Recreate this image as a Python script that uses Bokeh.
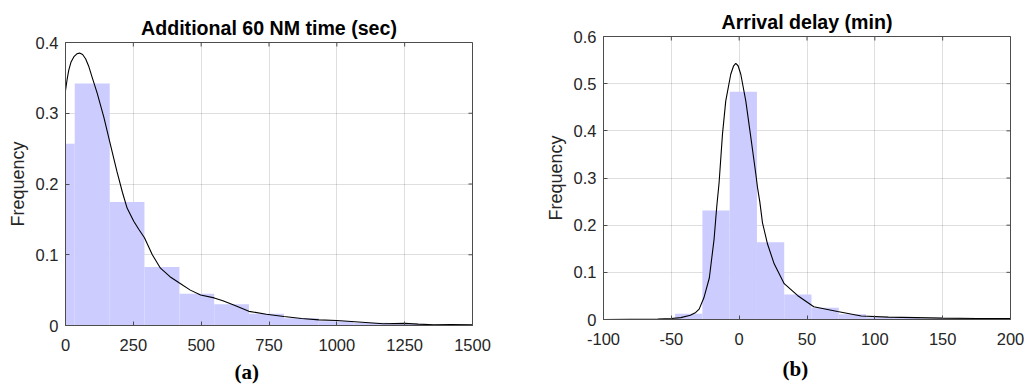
import math
from bokeh.plotting import figure
from bokeh.layouts import row, column
from bokeh.models import FixedTicker, Range1d, Title
from bokeh.embed import file_html
from bokeh.resources import INLINE

# ---------------- Panel (a): Additional 60 NM time (sec) ----------------
a_title = "Additional 60 NM time (sec)"
a_xticks = [0, 250, 500, 750, 1000, 1250, 1500]
a_xlabels = ["0", "250", "500", "750", "1000", "1250", "1500"]
a_yticks = [0, 0.1, 0.2, 0.3, 0.4]
a_ylabels = ["0", "0.1", "0.2", "0.3", "0.4"]
a_bin_edges = [-94, 34, 163, 291, 420, 548, 676, 805, 933, 1061, 1190, 1318, 1446, 1575]
a_freq = [0.257, 0.342, 0.1745, 0.0826, 0.045, 0.030, 0.0165, 0.0103, 0.006, 0.004, 0.002, 0.001, 0.0005]
a_kde_x = [0, 6, 12, 20, 31, 42, 52, 63, 74, 86, 98, 117, 141, 166, 190, 210, 227, 252, 270,
           291, 320, 350, 385, 420, 460, 498, 548, 580, 620, 676, 740, 805, 870, 934, 1000,
           1080, 1171, 1250, 1300, 1357, 1420, 1500]
a_kde_y = [0.332, 0.348, 0.361, 0.372, 0.380, 0.384, 0.385, 0.383, 0.377, 0.366, 0.351,
           0.328, 0.295, 0.255, 0.217, 0.188, 0.166, 0.147, 0.136, 0.124, 0.100, 0.081,
           0.069, 0.060, 0.050, 0.043, 0.039, 0.035, 0.029, 0.020, 0.016, 0.0128, 0.010,
           0.008, 0.007, 0.005, 0.0024, 0.003, 0.002, 0.001, 0.0012, 0.001]
a_caption = "(a)"

# ---------------- Panel (b): Arrival delay (min) ----------------
b_title = "Arrival delay (min)"
b_xticks = [-100, -50, 0, 50, 100, 150, 200]
b_xlabels = ["-100", "-50", "0", "50", "100", "150", "200"]
b_yticks = [0, 0.1, 0.2, 0.3, 0.4, 0.5, 0.6]
b_ylabels = ["0", "0.1", "0.2", "0.3", "0.4", "0.5", "0.6"]
b_bin_edges = [-47.2, -27.1, -7.0, 13.1, 33.2, 53.3, 73.4, 93.5, 113.6, 133.7, 153.8, 173.9, 194.0]
b_freq = [0.012, 0.231, 0.483, 0.164, 0.053, 0.025, 0.011, 0.005, 0.003, 0.002, 0.0015, 0.001]
b_kde_x = [-100, -80, -60, -50, -43, -36, -32, -29.5, -26, -22, -18.5, -16.5, -14.8, -12.3,
           -9.9, -6.2, -4.2, -2.5, -0.8, 1.2, 4.9, 8.6, 12.3, 13.5, 15.2, 17.2, 20.9, 25.8,
           33.2, 43, 55, 72.5, 90, 110, 130, 150, 175, 200]
b_kde_y = [0.0, 0.0005, 0.001, 0.002, 0.004, 0.009, 0.015, 0.022, 0.046, 0.088, 0.17, 0.24,
           0.29, 0.393, 0.463, 0.52, 0.537, 0.543, 0.538, 0.52, 0.463, 0.386, 0.308, 0.28,
           0.25, 0.205, 0.16, 0.118, 0.076, 0.051, 0.027, 0.017, 0.0075, 0.005, 0.004,
           0.003, 0.002, 0.002]
b_caption = "(b)"

TICK_FONT = "Liberation Sans"
TEXT_COLOR = "#262626"
FRAME_COLOR = "#4d4d4d"
BAR_COLOR = "#ccccff"
TICK_LEN = 4


def style_axis(ax, ticks, labels, standoff):
    ax.ticker = FixedTicker(ticks=ticks)
    ax.major_label_overrides = {t: l for t, l in zip(ticks, labels)}
    ax.major_tick_in = TICK_LEN
    ax.major_tick_out = 0
    ax.minor_tick_line_color = None
    ax.major_tick_line_color = FRAME_COLOR
    ax.axis_line_color = FRAME_COLOR
    ax.major_label_text_font = TICK_FONT
    ax.major_label_text_color = TEXT_COLOR
    ax.major_label_text_font_size = "16.5px"
    ax.major_label_standoff = standoff


def make_panel(title, xr, yr, xticks, xlabels, yticks, ylabels, edges, freq,
               kx, ky, caption, cap_offset, cap_standoff,
               border_left, border_right, border_top, border_bottom):
    p = figure(frame_width=407, frame_height=283, output_backend="svg",
               toolbar_location=None, x_range=Range1d(*xr), y_range=Range1d(*yr),
               min_border_left=border_left, min_border_right=border_right,
               min_border_top=border_top, min_border_bottom=border_bottom,
               background_fill_color="white", border_fill_color="white")
    p.title.text = title
    p.title.align = "center"
    p.title.text_font = TICK_FONT
    p.title.text_font_style = "bold"
    p.title.text_font_size = "19.6px"
    p.title.text_color = "#000000"
    p.title.standoff = 8
    p.outline_line_color = FRAME_COLOR
    p.outline_line_alpha = 1.0

    p.xgrid.ticker = FixedTicker(ticks=xticks)
    p.ygrid.ticker = FixedTicker(ticks=yticks)
    for g in (p.xgrid[0], p.ygrid[0]):
        g.grid_line_color = "#262626"
        g.grid_line_alpha = 0.15

    p.quad(left=edges[:-1], right=edges[1:], top=freq, bottom=0,
           fill_color=BAR_COLOR, line_color=None)
    p.line(kx, ky, line_color="black", line_width=1.1)

    # inward ticks on the top and right edges of the box (MATLAB style)
    p.ray(x=xticks, y=[yr[1]] * len(xticks), length=TICK_LEN, length_units="screen",
          angle=-math.pi / 2, line_color=FRAME_COLOR, line_width=1)
    p.ray(x=[xr[1]] * len(yticks), y=yticks, length=TICK_LEN, length_units="screen",
          angle=math.pi, line_color=FRAME_COLOR, line_width=1)

    style_axis(p.xaxis[0], xticks, xlabels, 13)
    style_axis(p.yaxis[0], yticks, ylabels, 7)
    p.yaxis[0].axis_label = "Frequency"
    p.yaxis[0].axis_label_text_font = TICK_FONT
    p.yaxis[0].axis_label_text_font_size = "18px"
    p.yaxis[0].axis_label_text_font_style = "normal"
    p.yaxis[0].axis_label_text_color = TEXT_COLOR
    p.yaxis[0].axis_label_standoff = 5

    cap = Title(text=caption, align="left", offset=cap_offset,
                text_font="Liberation Serif", text_font_style="bold",
                text_font_size="21px", text_color="#000000", standoff=cap_standoff)
    p.add_layout(cap, "below")
    return p


pa = make_panel(a_title, (0, 1500), (0, 0.4), a_xticks, a_xlabels, a_yticks, a_ylabels,
                a_bin_edges, a_freq, a_kde_x, a_kde_y, a_caption, 169, 9,
                65, 46, 42, 65)
pb = make_panel(b_title, (-100, 200), (0, 0.6), b_xticks, b_xlabels, b_yticks, b_ylabels,
                b_bin_edges, b_freq, b_kde_x, b_kde_y, b_caption, 179, 15,
                85, 14, 36, 71)

layout = row(column(pa), column(pb))
open("out.html", "w").write(file_html(layout, INLINE))
